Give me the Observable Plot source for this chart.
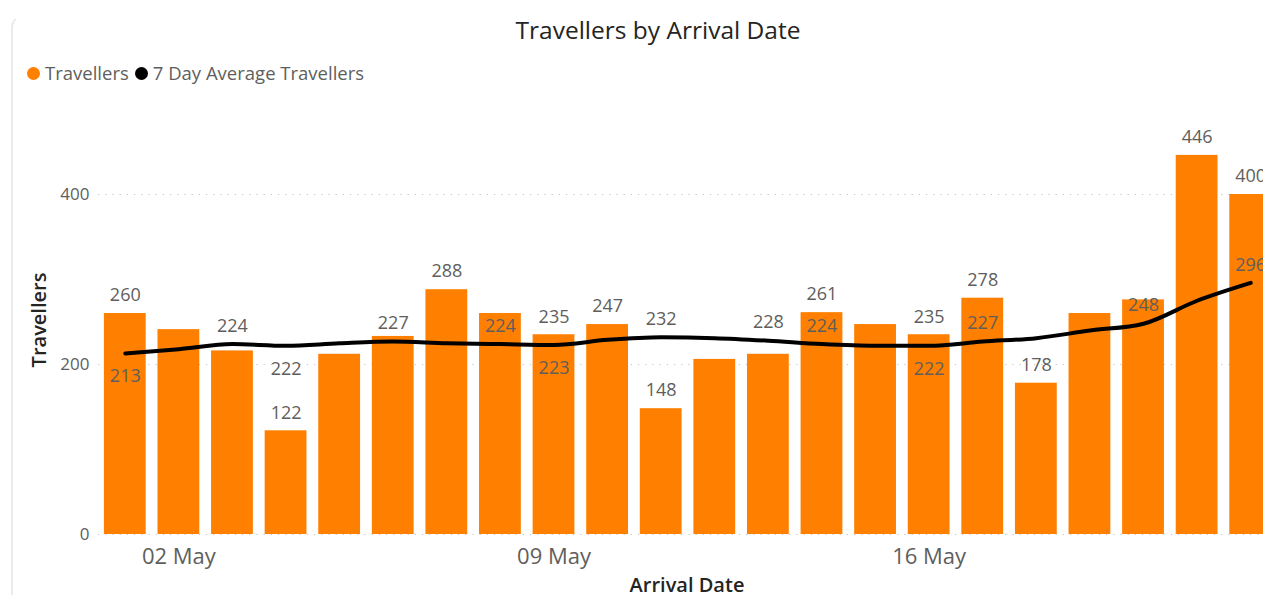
<!DOCTYPE html>
<html>
<head>
<meta charset="utf-8">
<script src="https://cdn.jsdelivr.net/npm/d3@7"></script>
<script src="https://cdn.jsdelivr.net/npm/@observablehq/plot@0.6"></script>
<style>
  html, body { margin: 0; padding: 0; overflow: hidden; background: #fff; width: 1263px; height: 595px; }
  body { position: relative; font-family: "Segoe UI", "Open Sans", sans-serif; }
  #card { position: absolute; left: 11px; top: 14px; width: 40px; height: 620px; border-left: 2px solid #ebebeb; border-top: 2px solid transparent; border-top-left-radius: 14px; }
  #title { position: absolute; left: 0; width: 1316px; top: 14px; text-align: center; font-size: 24.5px; line-height: 32px; color: #252423; }
  #legend { position: absolute; left: 27px; top: 61px; font-size: 18.5px; line-height: 24px; color: #605E5C; display: flex; align-items: center; white-space: nowrap; }
  .sw { display: inline-block; width: 13px; height: 13px; border-radius: 50%; margin-right: 5px; }
  .item { display: flex; align-items: center; margin-right: 6px; }
  #chart { position: absolute; left: 0; top: 100px; width: 1291px; }
  #chart svg { max-width: none !important; }
  .axtitle { position: absolute; font-size: 20px; color: #252423; font-weight: 600; white-space: nowrap; }
  #ytitle { left: 38px; top: 320px; transform: translate(-50%, -50%) rotate(-90deg); }
  #xtitle { left: 687px; top: 584px; transform: translate(-50%, -50%); }
</style>
</head>
<body>
<div id="card"></div>
<div id="title">Travellers by Arrival Date</div>
<div id="legend"></div>
<div id="chart"></div>
<div class="axtitle" id="ytitle">Travellers</div>
<div class="axtitle" id="xtitle">Arrival Date</div>
<script>
const dates = ["01 May","02 May","03 May","04 May","05 May","06 May","07 May","08 May","09 May","10 May","11 May",
               "12 May","13 May","14 May","15 May","16 May","17 May","18 May","19 May","20 May","21 May","22 May"];
const travellers = [260,241,216,122,212,233,288,260,235,247,148,206,212,261,247,235,278,178,260,276,446,400];
const avg7 = [213,218,224,222,225,227,225,224,223,229,232,231,228,224,222,222,227,231,240,248,275,296];
const xTickLabels = ["02 May","09 May","16 May"];
const yTicks = [0,200,400];
const barLabelShown = [true,false,false,true,false,false,true,false,true,true,true,false,false,true,false,true,true,true,false,false,true,true];
const avgLabelSide = ["below",null,"above","below",null,"above",null,"above","below",null,"above",null,"above","above",null,"below","above",null,null,"above",null,"above"];
const seriesNames = ["Travellers","7 Day Average Travellers"];
const seriesColors = ["#FF7F00","#000000"];

const legend = document.getElementById("legend");
seriesNames.forEach((n,i) => {
  const it = document.createElement("span"); it.className = "item";
  const sw = document.createElement("span"); sw.className = "sw"; sw.style.background = seriesColors[i];
  it.appendChild(sw); it.appendChild(document.createTextNode(n)); legend.appendChild(it);
});

const data = dates.map((d,i) => ({date: d, travellers: travellers[i], avg: avg7[i], showBar: barLabelShown[i], side: avgLabelSide[i]}));
const labelFill = "#605E5C";

const chart = Plot.plot({
  width: 1291, height: 495,
  marginLeft: 98, marginRight: 14, marginTop: 9, marginBottom: 61,
  style: {fontFamily: "'Segoe UI','Open Sans',sans-serif", fontSize: "16px", color: labelFill, background: "transparent", overflow: "visible", maxWidth: "none"},
  x: {domain: dates, paddingInner: 0.22, paddingOuter: 0.11, round: false, label: null},
  y: {domain: [0, 500], label: null},
  marks: [
    Plot.gridY(yTicks, {stroke: "#c4c4c4", strokeOpacity: 1, strokeWidth: 1.2, strokeDasharray: "1.2 6"}),
    Plot.barY(data, {x: "date", y: "travellers", fill: seriesColors[0]}),
    Plot.lineY(data, {x: "date", y: "avg", stroke: seriesColors[1], strokeWidth: 4, curve: "monotone-x"}),
    Plot.text(data.filter(d => d.showBar), {x: "date", y: "travellers", text: d => String(d.travellers), dy: -18, fill: labelFill, fontSize: 18}),
    Plot.text(data.filter(d => d.side === "above"), {x: "date", y: "avg", text: d => String(d.avg), dy: -18, fill: labelFill, fontSize: 18}),
    Plot.text(data.filter(d => d.side === "below"), {x: "date", y: "avg", text: d => String(d.avg), dy: 23, fill: labelFill, fontSize: 18}),
    Plot.axisY(yTicks, {tickSize: 0, tickPadding: 9, label: null, fontSize: 17, fill: labelFill}),
    Plot.axisX(xTickLabels, {tickSize: 0, tickPadding: 14, label: null, fontSize: 22, fill: labelFill})
  ]
});
document.getElementById("chart").appendChild(chart);
</script>
</body>
</html>
